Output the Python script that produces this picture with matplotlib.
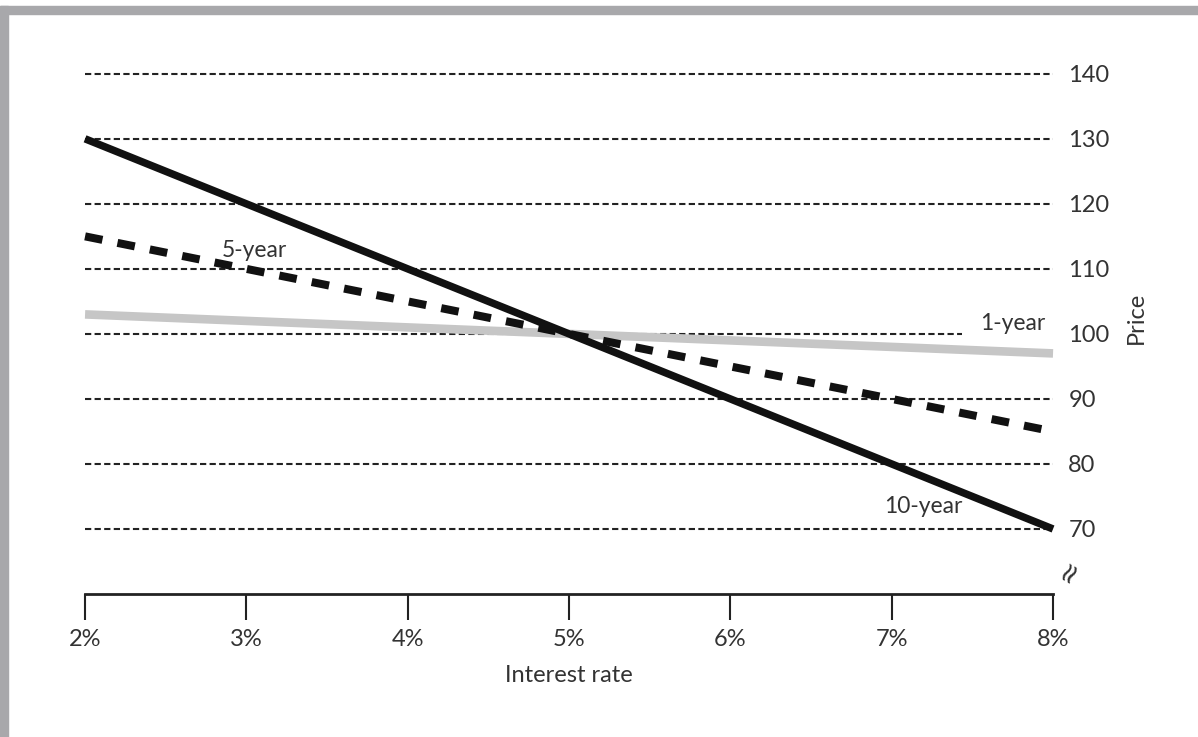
import matplotlib.pyplot as plt
from matplotlib.patches import Rectangle

# interest rates (%) and bond prices for each maturity
rates = [2, 3, 4, 5, 6, 7, 8]
price_10y = [130, 120, 110, 100, 90, 80, 70]
price_5y = [115, 110, 105, 100, 95, 90, 85]
price_1y = [103, 102, 101, 100, 99, 98, 97]
price_ticks = [70, 80, 90, 100, 110, 120, 130, 140]
rate_labels = ["2%", "3%", "4%", "5%", "6%", "7%", "8%"]

txt = "#333333"
plt.rcParams["font.family"] = ["Lato", "DejaVu Sans"]

fig = plt.figure(figsize=(11.98, 7.37), dpi=100)
fig.patches.append(Rectangle((0, 0.981), 1, 0.011, transform=fig.transFigure,
                             color="#a8a8ab", zorder=0))
fig.patches.append(Rectangle((0, 0), 0.0067, 0.992, transform=fig.transFigure,
                             color="#a8a8ab", zorder=0))

ax = fig.add_axes([0.071, 0.194, 0.808, 0.75])
ax.set_xlim(2, 8)
ax.set_ylim(60, 145)

# dashed price grid across the rate range
ax.hlines(price_ticks, 2, 8, colors="#222222", linestyles=(0, (3, 1.6)),
          linewidth=1.5, zorder=1)

ax.plot(rates, price_1y, color="#c6c6c6", linewidth=6.2, solid_capstyle="butt",
        zorder=3, clip_on=False)
ax.plot(rates, price_5y, color="#111111", linewidth=5.8, linestyle=(0, (2.2, 1.9)),
        zorder=4, clip_on=False)
ax.plot(rates, price_10y, color="#111111", linewidth=5.4, solid_capstyle="butt",
        zorder=5, clip_on=False)

lab = dict(fontsize=16.5, color=txt)
ax.text(2.85, 112.8, "5-year", va="center", ha="left", zorder=2, **lab)
ax.text(7.55, 101.6, "1-year", va="center", ha="left", zorder=2,
        bbox=dict(facecolor="white", edgecolor="none", pad=13), **lab)
ax.text(6.95, 73.4, "10-year", va="center", ha="left", zorder=2, **lab)

for s in ["top", "left", "right"]:
    ax.spines[s].set_visible(False)
ax.spines["bottom"].set_linewidth(2)
ax.spines["bottom"].set_color("#222222")
ax.spines["bottom"].set_bounds(2, 8)

ax.set_xticks(rates)
ax.set_xticklabels(rate_labels)
ax.tick_params(axis="x", direction="out", length=19, width=1.5, color="#222222",
               labelsize=17, labelcolor=txt, pad=6)

ax.yaxis.tick_right()
ax.set_yticks(price_ticks)
ax.tick_params(axis="y", length=0, labelsize=17, labelcolor=txt, pad=11)
ax.yaxis.set_label_position("right")
ax.set_ylabel("Price", fontsize=17, color=txt, labelpad=12)
ax.set_xlabel("Interest rate", fontsize=17, color=txt, labelpad=11)

# axis break marker on the price scale
ax.text(8.1, 63.4, "≈", rotation=60, ha="center", va="center", fontsize=20,
        color="#333333", clip_on=False, family="DejaVu Sans")

fig.savefig("out.png", dpi=100)
